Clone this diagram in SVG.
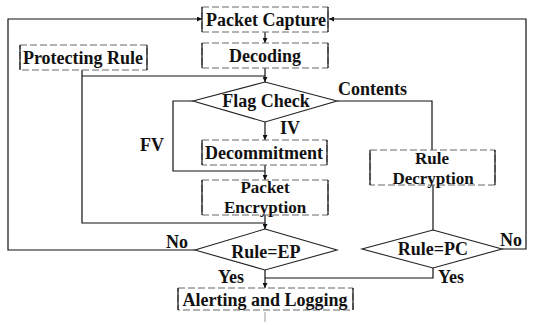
<svg xmlns="http://www.w3.org/2000/svg" width="535" height="325" viewBox="0 0 535 325">
<style>
.bg{fill:#fff}
.box{fill:#fff;stroke:#666;stroke-width:1;stroke-dasharray:7 3}
.side{fill:none;stroke:#111;stroke-width:1.2}
.dia{fill:#fff;stroke:#222;stroke-width:1.1}
text{font-family:"Liberation Serif","Times New Roman","DejaVu Serif",serif;font-weight:bold;font-size:18px;fill:#111}
.t{text-anchor:middle}
.s{font-size:17px}
.c{fill:none;stroke:#111;stroke-width:1.2}
</style>
<defs>
<marker id="ah" viewBox="0 0 10 10" refX="10" refY="5" markerWidth="5" markerHeight="5" orient="auto" markerUnits="userSpaceOnUse">
<path d="M0,0 L10,5 L0,10 z" fill="#111"/>
</marker>
</defs>
<rect class="bg" x="0" y="0" width="535" height="325"/>
<g id="connectors">
<line class="c" x1="265" y1="32" x2="265" y2="43" marker-end="url(#ah)"/>
<line class="c" x1="265" y1="68" x2="265" y2="82" marker-end="url(#ah)"/>
<path class="c" d="M82,70 V223 H265"/>
<path class="c" d="M82,76 H265"/>
<line class="c" x1="265" y1="122" x2="265" y2="140" marker-end="url(#ah)"/>
<path class="c" d="M193,101 H173 V171 H265"/>
<line class="c" x1="265" y1="165" x2="265" y2="180" marker-end="url(#ah)"/>
<line class="c" x1="265" y1="215" x2="265" y2="229" marker-end="url(#ah)"/>
<path class="c" d="M337,101 H432 V150"/>
<path class="c" d="M433,185 V230"/>
<path class="c" d="M195,250 H8 V19 H202" marker-end="url(#ah)"/>
<path class="c" d="M502,249 H526 V19 H329" marker-end="url(#ah)"/>
<line class="c" x1="265" y1="270" x2="265" y2="288" marker-end="url(#ah)"/>
<path class="c" d="M433,268 V278 H265"/>
<line x1="265" y1="312" x2="265" y2="322" stroke="#999" stroke-width="1"/>
<text x="338" y="95">Contents</text>
<text x="280" y="134">IV</text>
<text x="140" y="151">FV</text>
<text x="166" y="248">No</text>
<text x="218" y="283">Yes</text>
<text x="500" y="246">No</text>
<text x="438" y="283">Yes</text>
</g>
<g id="packet-capture">
<rect class="box" x="202" y="7" width="126" height="25"/>
<path class="side" d="M202,7 V32 M328,7 V32"/>
<text class="t" x="266" y="26">Packet Capture</text>
</g>
<g id="decoding">
<rect class="box" x="202" y="43" width="126" height="25"/>
<path class="side" d="M202,43 V68 M328,43 V68"/>
<text class="t" x="265" y="62">Decoding</text>
</g>
<g id="protecting-rule">
<rect class="box" x="20" y="45" width="127" height="25"/>
<path class="side" d="M20,45 V70 M147,45 V70"/>
<text class="t" x="83" y="64">Protecting Rule</text>
</g>
<g id="flag-check">
<polygon class="dia" points="265,82 337,101 265,122 193,101"/>
<text class="t" x="266" y="107">Flag Check</text>
</g>
<g id="decommitment">
<rect class="box" x="202" y="140" width="125" height="25"/>
<path class="side" d="M202,140 V165 M327,140 V165"/>
<text class="t" x="264" y="159">Decommitment</text>
</g>
<g id="packet-encryption">
<rect class="box" x="202" y="180" width="126" height="35"/>
<path class="side" d="M202,180 V215 M328,180 V215"/>
<text class="t s" x="265" y="193">Packet</text>
<text class="t s" x="265" y="213">Encryption</text>
</g>
<g id="rule-decryption">
<rect class="box" x="370" y="150" width="125" height="35" stroke="#bbb"/>
<path class="side" d="M370,150 V185 M495,150 V185"/>
<text class="t s" x="432" y="164">Rule</text>
<text class="t s" x="433" y="184">Decryption</text>
</g>
<g id="rule-ep">
<polygon class="dia" points="265,229 337,250 265,270 195,250"/>
<text class="t" x="266" y="258">Rule=EP</text>
</g>
<g id="rule-pc">
<polygon class="dia" points="433,230 502,249 433,268 362,249"/>
<text class="t" x="433" y="255">Rule=PC</text>
</g>
<g id="alerting-logging">
<rect class="box" x="178" y="288" width="175" height="22"/>
<path class="side" d="M178,288 V310 M353,288 V310"/>
<text class="t" x="265" y="306">Alerting and Logging</text>
</g>
</svg>
